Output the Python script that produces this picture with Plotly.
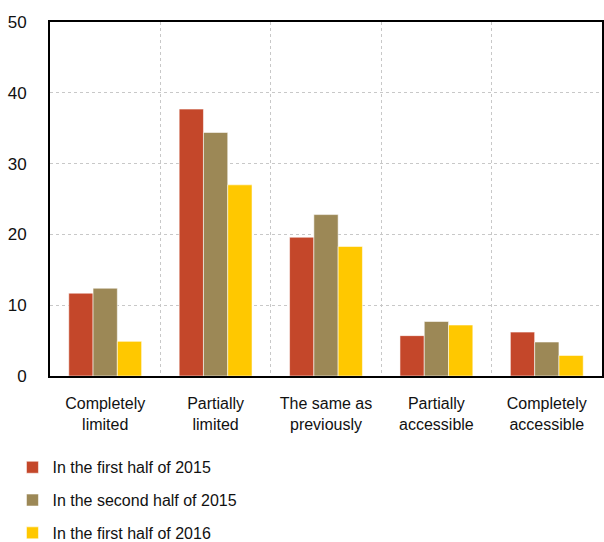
import plotly.graph_objects as go

categories = ["Completely<br>limited", "Partially<br>limited", "The same as<br>previously",
              "Partially<br>accessible", "Completely<br>accessible"]
series_names = ["In the first half of 2015", "In the second half of 2015", "In the first half of 2016"]
h1_2015 = [11.7, 37.7, 19.6, 5.7, 6.2]
h2_2015 = [12.4, 34.4, 22.8, 7.7, 4.8]
h1_2016 = [4.9, 27.0, 18.3, 7.2, 2.9]
colors = ["#C4472A", "#9C8856", "#FFC800"]
y_ticks = [0, 10, 20, 30, 40, 50]

FONT = "Liberation Sans, Arial, sans-serif"

fig = go.Figure()
for i, (name, vals) in enumerate(zip(series_names, [h1_2015, h2_2015, h1_2016])):
    fig.add_trace(go.Bar(
        x=categories, y=vals, name=name, legendgroup=f"g{i}",
        marker=dict(color=colors[i], line=dict(color="rgba(255,255,255,0.55)", width=1)),
    ))

fig.update_layout(
    width=604, height=542,
    margin=dict(l=50, r=2, t=22, b=166, autoexpand=False),
    paper_bgcolor="white", plot_bgcolor="white",
    barmode="group", bargap=0.34, bargroupgap=0,
    font=dict(family=FONT, size=16, color="#111"),
    showlegend=True,
    legend=dict(
        orientation="v", x=-0.068, xanchor="left", y=-0.21, yanchor="top",
        font=dict(family=FONT, size=16, color="#111"),
        itemwidth=30, tracegroupgap=9, bgcolor="rgba(0,0,0,0)",
    ),
    xaxis=dict(
        type="category", tickson="boundaries", showgrid=True,
        gridcolor="#C8C8C8", griddash="dot", gridwidth=1,
        showline=True, linecolor="black", linewidth=2, mirror=True,
        ticks="", ticklabelstandoff=12,
        tickfont=dict(family=FONT, size=16, color="#111"),
    ),
    yaxis=dict(
        range=[0, 50], tickvals=y_ticks, showgrid=True,
        gridcolor="#C8C8C8", griddash="dot", gridwidth=1,
        showline=True, linecolor="black", linewidth=2, mirror=True,
        ticks="", ticklabelstandoff=18, zeroline=False,
        tickfont=dict(family=FONT, size=17, color="#111"),
    ),
)

fig.write_html("out.html")
